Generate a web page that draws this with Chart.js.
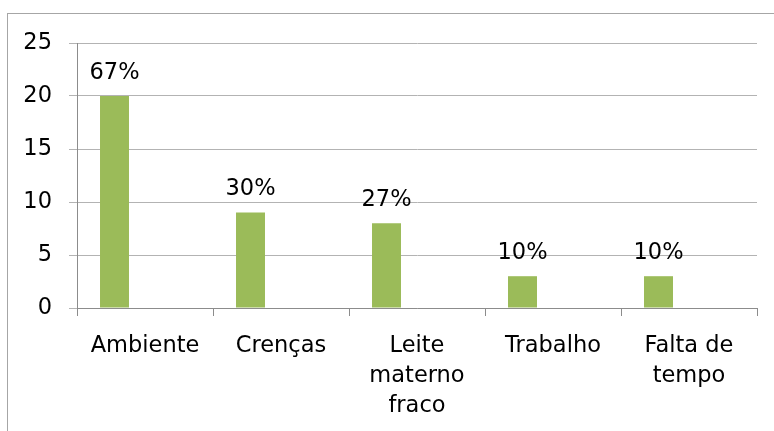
<!DOCTYPE html>
<html><head><meta charset="utf-8">
<script src="https://cdn.jsdelivr.net/npm/chart.js@4.4.0/dist/chart.umd.min.js"></script>
<style>
html,body{margin:0;padding:0;background:#fff;}
#wrap{position:relative;width:774px;height:431px;overflow:hidden;}
#frame{position:absolute;left:7px;top:13px;width:800px;height:500px;border-top:1.5px solid #a6a6a6;border-left:1.5px solid #a6a6a6;}
canvas{position:absolute;left:0;top:0;}
</style></head>
<body><div id="wrap"><div id="frame"></div><canvas id="c" width="774" height="431"></canvas></div>
<script>
const categories = ["Ambiente", "Crenças", ["Leite", "materno", "fraco"], "Trabalho", ["Falta de", "tempo"]];
const values = [20, 9, 8, 3, 3];
const percentLabels = ["67%", "30%", "27%", "10%", "10%"];
const yTicks = [0, 5, 10, 15, 20, 25];

const FONT = "'DejaVu Sans', sans-serif";

const labelPlugin = {
  id: 'pctLabels',
  afterDatasetsDraw(chart) {
    const ctx = chart.ctx;
    const meta = chart.getDatasetMeta(0);
    ctx.save();
    ctx.font = "22.5px " + FONT;
    ctx.fillStyle = "#000";
    ctx.textAlign = "center";
    ctx.textBaseline = "middle";
    meta.data.forEach((bar, i) => {
      ctx.fillText(percentLabels[i], bar.x, bar.y - 23);
    });
    ctx.restore();
  }
};

new Chart(document.getElementById('c'), {
  type: 'bar',
  data: {
    labels: categories,
    datasets: [
      { data: values, backgroundColor: '#9BBB59', borderWidth: 0, categoryPercentage: 0.897, barPercentage: 0.475 },
      { data: values.map(() => null), backgroundColor: 'rgba(0,0,0,0)', categoryPercentage: 0.897, barPercentage: 0.475 }
    ]
  },
  options: {
    responsive: false,
    animation: false,
    devicePixelRatio: 1,
    layout: { padding: { top: 43, right: 17, left: 0, bottom: 0 } },
    plugins: { legend: { display: false }, tooltip: { enabled: false } },
    scales: {
      x: {
        offset: true,
        grid: { display: true, drawOnChartArea: false, drawTicks: true, tickLength: 8, offset: true, color: '#8c8c8c' },
        border: { display: true, color: '#8c8c8c', width: 1 },
        ticks: { color: '#000', font: { family: FONT, size: 22.5, lineHeight: 1.33 }, padding: 15, maxRotation: 0, autoSkip: false },
        afterFit(s) { s.height = 123; }
      },
      y: {
        min: 0, max: 25,
        afterBuildTicks(s) { s.ticks = yTicks.map(v => ({ value: v })); },
        grid: { color: '#b3b3b3', tickLength: 8, drawTicks: true },
        border: { display: true, color: '#8c8c8c', width: 1 },
        ticks: { color: '#000', font: { family: FONT, size: 22.5 }, padding: 17 },
        afterFit(s) { s.width = 77; }
      }
    }
  },
  plugins: [labelPlugin]
});
</script></body></html>
